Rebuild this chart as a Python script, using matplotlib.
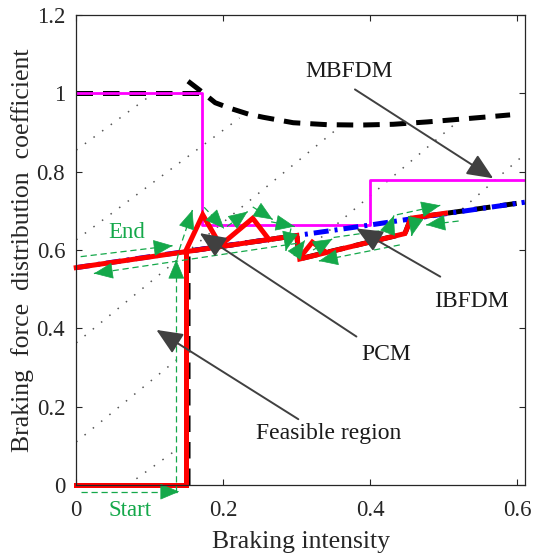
import matplotlib
matplotlib.use("Agg")
import matplotlib.pyplot as plt
import numpy as np

plt.rcParams['font.family'] = ['Liberation Serif', 'DejaVu Serif']
plt.rcParams['mathtext.fontset'] = 'stix'

# ---------------- data ----------------
# MBFDM (magenta step line)
mbfdm_x = [0.0, 0.171, 0.171, 0.400, 0.400, 0.61]
mbfdm_y = [1.0, 1.0, 0.664, 0.664, 0.778, 0.778]

# IBFDM (blue dash-dot line)
ibfdm_x = [0.0, 0.1, 0.2, 0.3, 0.4, 0.5, 0.61]
ibfdm_y = [0.555, 0.583, 0.610, 0.637, 0.664, 0.692, 0.722]

# Feasible-region boundaries (black dashed)
upper_flat_x = [0.0, 0.168]
upper_flat_y = [1.0, 1.0]
upper_curve_x = [0.152, 0.168, 0.189, 0.209, 0.234, 0.254, 0.295, 0.341,
                 0.386, 0.431, 0.477, 0.522, 0.560, 0.590]
upper_curve_y = [1.031, 1.008, 0.976, 0.962, 0.947, 0.939, 0.925, 0.920,
                 0.919, 0.921, 0.927, 0.934, 0.940, 0.945]
lower_bound_x = [0.152, 0.152, 0.300, 0.303, 0.447, 0.455, 0.61]
lower_bound_y = [0.0, 0.597, 0.637, 0.577, 0.642, 0.681, 0.722]

# PCM (red thick)
pcm_start_x = [0.0, 0.149, 0.149]
pcm_start_y = [0.0, 0.0, 0.598]
pcm_main_x = [0.0, 0.300, 0.304, 0.447, 0.455, 0.502]
pcm_main_y = [0.555, 0.637, 0.577, 0.642, 0.681, 0.694]
pcm_zig_x = [0.149, 0.172, 0.196, 0.240, 0.262]
pcm_zig_y = [0.598, 0.690, 0.612, 0.681, 0.627]
pcm_tri_x = [0.306, 0.321, 0.337]
pcm_tri_y = [0.585, 0.620, 0.598]

# dotted reference lines (segments)
dot_segments = [
    ([0.0, 0.105], [0.855, 1.0]),
    ([0.0, 0.222], [0.626, 0.937]),
    ([0.0, 0.352], [0.363, 0.905]),
    ([0.0, 0.140], [0.110, 0.325]),
    ([0.333, 0.520], [0.632, 0.930]),
    ([0.070, 0.140], [0.0, 0.095]),
    ([0.525, 0.61], [0.705, 0.845]),
]

# green dashed trajectory arrows: (x0, y0, x1, y1, head)
green_arrows = [
    (0.006, -0.017, 0.140, -0.017, True),
    (0.136, -0.017, 0.136, 0.575, True),
    (0.137, 0.575, 0.140, 0.600, False),
    (0.140, 0.600, 0.158, 0.702, True),
    (0.174, 0.709, 0.201, 0.655, True),
    (0.205, 0.660, 0.233, 0.698, True),
    (0.240, 0.710, 0.267, 0.678, True),
    (0.265, 0.672, 0.297, 0.660, True),
    (0.292, 0.655, 0.285, 0.598, True),
    (0.296, 0.585, 0.311, 0.625, True),
    (0.322, 0.600, 0.348, 0.628, True),
    (0.350, 0.632, 0.425, 0.652, False),
    (0.425, 0.652, 0.432, 0.688, True),
    (0.436, 0.690, 0.495, 0.714, True),
    (0.520, 0.674, 0.476, 0.664, True),
    (0.460, 0.670, 0.456, 0.636, True),
    (0.440, 0.613, 0.330, 0.572, True),
    (0.300, 0.617, 0.024, 0.540, True),
    (0.006, 0.583, 0.131, 0.611, True),
]

# labels with gray arrows: (text, text_x, text_y, tail_x, tail_y, tip_x, tip_y)
labels = [
    ("MBFDM", 0.371, 1.055, 0.379, 1.010, 0.567, 0.783),
    ("IBFDM", 0.538, 0.468, 0.495, 0.532, 0.381, 0.655),
    ("PCM", 0.422, 0.332, 0.381, 0.379, 0.168, 0.643),
    ("Feasible region", 0.343, 0.132, 0.302, 0.168, 0.109, 0.396),
]

xticks = [0, 0.2, 0.4, 0.6]
xticklabels = ["0", "0.2", "0.4", "0.6"]
yticks = [0, 0.2, 0.4, 0.6, 0.8, 1.0, 1.2]
yticklabels = ["0", "0.2", "0.4", "0.6", "0.8", "1", "1.2"]

# ---------------- plot ----------------
fig = plt.figure(figsize=(5.37, 5.56), dpi=100)
ax = fig.add_axes([0.142, 0.1277, 0.836, 0.8453])

axcol = '#262626'
green = '#14a84a'
gray = '#404040'

for xs, ys in dot_segments:
    ax.plot(xs, ys, color='#555555', lw=1.1, linestyle=(0, (1, 6)), zorder=1)

bdash = (0, (3.3, 2.0))
ax.plot(upper_flat_x, upper_flat_y, color='black', lw=3.6, linestyle=bdash, zorder=2)
ax.plot(upper_curve_x, upper_curve_y, color='black', lw=3.6, linestyle=bdash, zorder=2)
ax.plot(lower_bound_x, lower_bound_y, color='black', lw=3.6, linestyle=bdash, zorder=2)

ax.plot(mbfdm_x, mbfdm_y, color='#ff00ff', lw=2.0, zorder=3)
ax.plot(ibfdm_x, ibfdm_y, color='#0000ff', lw=3.6, linestyle=(0, (3, 1.2, 0.6, 1.2)), zorder=4)

for xs, ys in [(pcm_start_x, pcm_start_y), (pcm_main_x, pcm_main_y),
               (pcm_zig_x, pcm_zig_y), (pcm_tri_x, pcm_tri_y)]:
    ax.plot(xs, ys, color='#ff0000', lw=3.6, zorder=5, solid_joinstyle='miter',
            clip_on=False)

for x0, y0, x1, y1, head in green_arrows:
    ax.plot([x0, x1], [y0, y1], color=green, lw=0.9, linestyle=(0, (5, 3)),
            zorder=6, clip_on=False)
    if head:
        dx, dy = x1 - x0, y1 - y0
        ax.annotate('', xy=(x1, y1), xytext=(x1 - 0.02 * dx, y1 - 0.02 * dy),
                    arrowprops=dict(arrowstyle='-|>,head_length=0.9,head_width=0.38',
                                    color=green, lw=0.5, shrinkA=0, shrinkB=0,
                                    mutation_scale=14),
                    annotation_clip=False, zorder=7)

ax.text(0.068, 0.645, "End", color=green, fontsize=16.5, ha='center', va='center', zorder=8)
ax.text(0.073, -0.064, "Start", color=green, fontsize=16.5, ha='center', va='center',
        clip_on=False, zorder=8)

for txt, tx, ty, ax0, ay0, ax1, ay1 in labels:
    ax.text(tx, ty, txt, fontsize=17, color='#1a1a1a', ha='center', va='center', zorder=9)
    ax.annotate('', xy=(ax1, ay1), xytext=(ax0, ay0),
                arrowprops=dict(arrowstyle='-|>,head_length=0.8,head_width=0.35',
                                color=gray, lw=1.4, shrinkA=0, shrinkB=0,
                                mutation_scale=20),
                zorder=9)

ax.set_xlim(0, 0.6105)
ax.set_ylim(0, 1.2)
ax.set_xticks(xticks)
ax.set_xticklabels(xticklabels)
ax.set_yticks(yticks)
ax.set_yticklabels(yticklabels)
ax.tick_params(direction='in', length=4, width=0.8, top=True, right=True,
               labelsize=16.5, colors=axcol)
ax.tick_params(axis='x', pad=11)
ax.tick_params(axis='y', pad=8)
for sp in ax.spines.values():
    sp.set_color(axcol)
    sp.set_linewidth(0.9)
    sp.set_zorder(10)

ax.set_xlabel("Braking intensity", fontsize=18.5, color=axcol, labelpad=7)
ax.set_ylabel("Braking  force  distribution  coefficient", fontsize=18.5,
              color=axcol, labelpad=2)

fig.savefig("out.png", dpi=100)
